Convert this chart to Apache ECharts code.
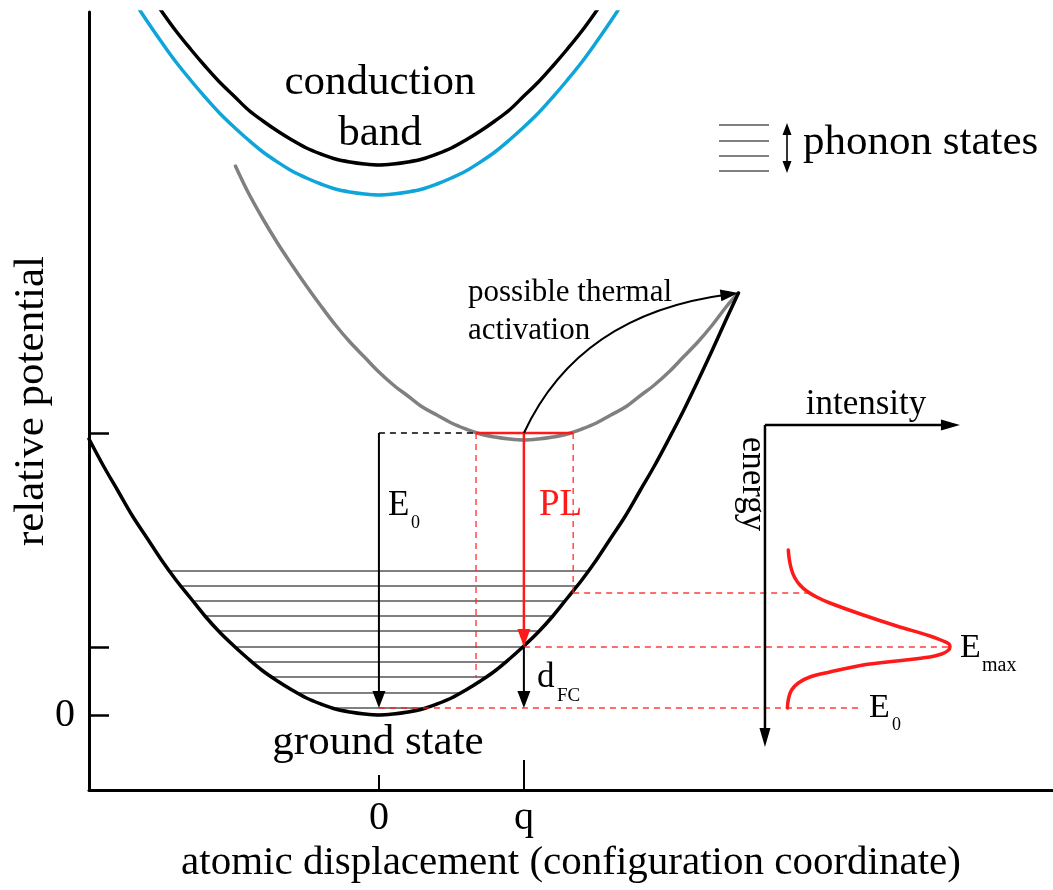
<!DOCTYPE html>
<html>
<head>
<meta charset="utf-8">
<script src="https://cdn.jsdelivr.net/npm/echarts@6/dist/echarts.min.js"></script>
<style>html,body{margin:0;padding:0;background:#fff}#c{width:1053px;height:890px}</style>
</head>
<body>
<div id="c"></div>
<script>
// ---------------- data (x in units of q, y in relative potential units) ----------------
const xAxisTitle = 'atomic displacement (configuration coordinate)';
const yAxisTitle = 'relative potential';
const xTickValues = [0, 1];
const xTickLabels = ['0', 'q'];
const yTickValues = [0, 0.68, 2.82];
const yLabelValues = [0];
const yTickLabels = ['0'];

// potential curves [x, y]
const groundState = [[-2.0,2.76],[-1.9,2.49],[-1.8,2.24],[-1.7,1.99],[-1.6,1.77],[-1.5,1.55],[-1.4,1.35],[-1.3,1.17],[-1.2,0.99],[-1.1,0.83],[-1.0,0.69],[-0.9,0.56],[-0.8,0.44],[-0.7,0.34],[-0.6,0.25],[-0.5,0.17],[-0.4,0.11],[-0.3,0.06],[-0.2,0.03],[-0.1,0.01],[0,0],[0.1,0.01],[0.2,0.03],[0.3,0.06],[0.4,0.11],[0.5,0.17],[0.6,0.25],[0.7,0.34],[0.8,0.44],[0.9,0.56],[1.0,0.69],[1.1,0.83],[1.2,0.99],[1.3,1.17],[1.4,1.35],[1.5,1.55],[1.6,1.77],[1.7,1.99],[1.8,2.24],[1.9,2.49],[2.0,2.76],[2.1,3.04],[2.2,3.34],[2.3,3.65],[2.4,3.97],[2.48,4.22]];
const excitedState = [[-0.99,5.49],[-0.9,5.22],[-0.8,4.96],[-0.7,4.72],[-0.6,4.50],[-0.5,4.29],[-0.4,4.09],[-0.3,3.90],[-0.2,3.73],[-0.1,3.58],[0,3.43],[0.1,3.30],[0.2,3.19],[0.3,3.08],[0.4,3.00],[0.5,2.92],[0.6,2.86],[0.7,2.81],[0.8,2.78],[0.9,2.76],[1.0,2.75],[1.1,2.76],[1.2,2.78],[1.3,2.81],[1.4,2.86],[1.5,2.92],[1.6,3.00],[1.7,3.08],[1.8,3.19],[1.9,3.30],[2.0,3.43],[2.1,3.58],[2.2,3.73],[2.3,3.90],[2.4,4.09],[2.48,4.22]];
const conductionBand = [[-1.6,7.25],[-1.5,7.04],[-1.4,6.84],[-1.3,6.66],[-1.2,6.49],[-1.1,6.33],[-1.0,6.19],[-0.9,6.05],[-0.8,5.94],[-0.7,5.84],[-0.6,5.75],[-0.5,5.67],[-0.4,5.61],[-0.3,5.56],[-0.2,5.53],[-0.1,5.51],[0,5.5],[0.1,5.51],[0.2,5.53],[0.3,5.56],[0.4,5.61],[0.5,5.67],[0.6,5.75],[0.7,5.84],[0.8,5.94],[0.9,6.05],[1.0,6.19],[1.1,6.33],[1.2,6.49],[1.3,6.66],[1.4,6.84],[1.5,7.04],[1.6,7.25]];
const conductionBandLow = [[-1.7,7.16],[-1.6,6.94],[-1.5,6.73],[-1.4,6.53],[-1.3,6.35],[-1.2,6.18],[-1.1,6.02],[-1.0,5.88],[-0.9,5.75],[-0.8,5.63],[-0.7,5.53],[-0.6,5.44],[-0.5,5.37],[-0.4,5.31],[-0.3,5.26],[-0.2,5.23],[-0.1,5.21],[0,5.2],[0.1,5.21],[0.2,5.23],[0.3,5.26],[0.4,5.31],[0.5,5.37],[0.6,5.44],[0.7,5.53],[0.8,5.63],[0.9,5.75],[1.0,5.88],[1.1,6.02],[1.2,6.18],[1.3,6.35],[1.4,6.53],[1.5,6.73],[1.6,6.94],[1.7,7.16]];

// phonon states inside the ground-state well
const phononLevels = [0.07, 0.22, 0.38, 0.53, 0.68, 0.84, 0.99, 1.14, 1.29, 1.44];
const phononLeft   = [-0.30, -0.56, -0.74, -0.88, -0.99, -1.10, -1.20, -1.29, -1.37, -1.45];
const phononRight  = [0.32, 0.56, 0.74, 0.88, 0.99, 1.10, 1.20, 1.29, 1.37, 1.44];

// levels and turning points
const thermalLevel = 2.82;
const thermalLeft = 0.67;
const thermalRight = 1.34;
const leftTurnGround = 0.37;
const rightTurnGround = 1.22;
const emaxLevel = 0.68;
const e0Level = 0.07;

// guide lines [x1, y1, x2, y2] on main axes
const redDashed = [
  [thermalLeft, thermalLevel, thermalLeft, leftTurnGround],
  [thermalRight, thermalLevel, thermalRight, rightTurnGround],
  [thermalRight, rightTurnGround, 2.98, rightTurnGround],
  [1.0, emaxLevel, 3.945, emaxLevel],
  [0, e0Level, 3.34, e0Level]
];
const blackDashed = [[0, thermalLevel, thermalLeft, thermalLevel]];
const redSolid = [[thermalLeft, thermalLevel, thermalRight, thermalLevel]];

// arrows [x1,y1,(cx,cy,) x2,y2]
const blackArrows = [[0, thermalLevel, 0, e0Level], [1, emaxLevel, 1, e0Level]];
const redArrows = [[1, thermalLevel, 1, emaxLevel]];
const thermalArrow = [[1, thermalLevel, 1.38, 4.01, 2.48, 4.22]];

// PL spectrum inset: intensity (inset x axis) vs energy (shared y axis)
const spectrumIntensity = [0.126, 0.132, 0.144, 0.162, 0.189, 0.225, 0.279, 0.351, 0.531, 0.712, 0.892, 0.964, 0.995, 1.0, 0.99, 0.955, 0.892, 0.712, 0.531, 0.351, 0.243, 0.18, 0.144, 0.128, 0.121];
const spectrumEnergy    = [1.65, 1.55, 1.45, 1.37, 1.30, 1.24, 1.18, 1.12, 1.00, 0.89, 0.79, 0.74, 0.71, 0.68, 0.645, 0.61, 0.58, 0.54, 0.50, 0.43, 0.38, 0.32, 0.25, 0.17, 0.07];
const insetAxes = [[0, 2.90, 0, -0.32], [0, 2.90, 1.054, 2.90]];

// ---------------- chart ----------------
const F = "'Liberation Serif','Times New Roman',serif";
const RED = '#ff1a1a';
const GRAY = '#808080';
const BLUE = '#10a5d8';

function segSeries(name, segs, style, xAxisIndex, z) {
  return {
    type: 'custom', name: name, xAxisIndex: xAxisIndex || 0, yAxisIndex: 0, z: z, silent: true,
    data: segs.map(s => [s[0], s[1]]),
    renderItem: function (params, api) {
      const s = segs[params.dataIndex];
      const a = api.coord([s[0], s[1]]);
      const b = api.coord([s[2], s[3]]);
      return { type: 'line', shape: { x1: a[0], y1: a[1], x2: b[0], y2: b[1] },
               style: Object.assign({ fill: null }, style) };
    }
  };
}

function arrowSeries(name, arrows, color, width, headLen, headWid, xAxisIndex, z) {
  return {
    type: 'custom', name: name, xAxisIndex: xAxisIndex || 0, yAxisIndex: 0, z: z, silent: true,
    data: arrows.map(a => [a[0], a[1]]),
    renderItem: function (params, api) {
      const a = arrows[params.dataIndex];
      const pts = [];
      for (let k = 0; k < a.length; k += 2) pts.push(api.coord([a[k], a[k + 1]]));
      const tip = pts[pts.length - 1];
      const prev = pts[pts.length - 2];
      let dx = tip[0] - prev[0], dy = tip[1] - prev[1];
      const len = Math.hypot(dx, dy) || 1; dx /= len; dy /= len;
      const bx = tip[0] - dx * headLen, by = tip[1] - dy * headLen;
      const nx = -dy * headWid / 2, ny = dx * headWid / 2;
      const children = [];
      if (pts.length === 2) {
        children.push({ type: 'line', shape: { x1: pts[0][0], y1: pts[0][1], x2: bx, y2: by },
          style: { stroke: color, lineWidth: width, fill: null } });
      } else {
        children.push({ type: 'bezierCurve', shape: { x1: pts[0][0], y1: pts[0][1], cpx1: pts[1][0], cpy1: pts[1][1],
          x2: tip[0] - dx * headLen * 0.6, y2: tip[1] - dy * headLen * 0.6 },
          style: { stroke: color, lineWidth: width, fill: null } });
      }
      children.push({ type: 'polygon', shape: { points: [[tip[0], tip[1]], [bx + nx, by + ny], [bx - nx, by - ny]] },
        style: { fill: color, stroke: null } });
      return { type: 'group', children: children };
    }
  };
}

function curve(name, data, color, width, z, xAxisIndex) {
  return { type: 'line', name: name, data: data, xAxisIndex: xAxisIndex || 0, yAxisIndex: 0,
    smooth: 0.35, showSymbol: false, symbol: 'none', clip: true, z: z, silent: true,
    lineStyle: { color: color, width: width, cap: 'round', join: 'round' } };
}

function txt(text, x, y, size, align, opts) {
  opts = opts || {};
  return { type: 'text', x: x, y: y, rotation: opts.rotation || 0, z: 100, silent: true,
    style: { text: text, fill: opts.color || '#000', fontSize: size, fontFamily: F,
      align: align, verticalAlign: 'middle', textAlign: align, textVerticalAlign: 'middle' } };
}

const phononSegs = phononLevels.map((y, i) => [phononLeft[i], y, phononRight[i], y]);
const spectrum = spectrumIntensity.map((v, i) => [v, spectrumEnergy[i]]);

const option = {
  animation: false,
  backgroundColor: '#fff',
  textStyle: { fontFamily: F },
  grid: { left: 89, right: 0, top: 12, bottom: 100, containLabel: false, outerBoundsMode: 'none' },
  xAxis: [
    { type: 'value', min: -2, max: 4.65, position: 'bottom',
      name: xAxisTitle, nameLocation: 'middle', nameGap: 53, nameMoveOverlap: false,
      nameTextStyle: { fontSize: 41, color: '#000', fontFamily: F },
      axisLine: { show: true, onZero: false, lineStyle: { color: '#000', width: 3 } },
      axisTick: { show: true, inside: true, length: 15, customValues: [xTickValues[0]], lineStyle: { color: '#000', width: 2 } },
      axisLabel: { show: true, customValues: xTickValues, formatter: v => xTickLabels[xTickValues.indexOf(v)],
        fontSize: 40, color: '#000', margin: 8, fontFamily: F },
      splitLine: { show: false } },
    { type: 'value', min: -3.654, max: 1.557, show: false, position: 'bottom', splitLine: { show: false } },
    { type: 'value', min: -2, max: 4.65, position: 'bottom',
      axisLine: { show: false, onZero: false },
      axisTick: { show: true, inside: true, length: 30, customValues: [xTickValues[1]], lineStyle: { color: '#000', width: 2 } },
      axisLabel: { show: false }, splitLine: { show: false } }
  ],
  yAxis: [
    { type: 'value', min: -0.75, max: 7.03, position: 'left',
      name: yAxisTitle, nameLocation: 'middle', nameGap: 36, nameRotate: 90, nameMoveOverlap: false,
      nameTextStyle: { fontSize: 43, color: '#000', fontFamily: F },
      axisLine: { show: true, onZero: false, lineStyle: { color: '#000', width: 3 } },
      axisTick: { show: true, inside: true, length: 20, customValues: yTickValues, lineStyle: { color: '#000', width: 2.5 } },
      axisLabel: { show: true, customValues: yLabelValues, formatter: v => yTickLabels[yLabelValues.indexOf(v)],
        fontSize: 40, color: '#000', margin: 14, fontFamily: F },
      splitLine: { show: false } }
  ],
  series: [
    segSeries('phonon states', phononSegs, { stroke: GRAY, lineWidth: 2.2 }, 0, 3),
    curve('conduction band', conductionBand, '#000', 3.5, 5),
    curve('conduction band (lower)', conductionBandLow, BLUE, 3.5, 5),
    curve('excited state', excitedState, GRAY, 3.5, 4),
    curve('ground state', groundState, '#000', 3.5, 5),
    segSeries('red guides', redDashed, { stroke: RED, lineWidth: 1.4, lineDash: [6, 5], opacity: 0.85 }, 0, 6),
    segSeries('black guides', blackDashed, { stroke: '#000', lineWidth: 1.4, lineDash: [6, 5] }, 0, 6),
    segSeries('thermal level', redSolid, { stroke: RED, lineWidth: 2.5 }, 0, 7),
    arrowSeries('E0 / dFC', blackArrows, '#000', 2, 17, 13, 0, 8),
    arrowSeries('PL', redArrows, RED, 2.5, 18, 13, 0, 8),
    arrowSeries('thermal activation', thermalArrow, '#000', 2, 18, 12, 0, 8),
    arrowSeries('inset axes', insetAxes, '#000', 2.5, 19, 11, 1, 8),
    curve('PL spectrum', spectrum, RED, 3.5, 7, 1)
  ],
  graphic: [
    // phonon states key
    { type: 'line', shape: { x1: 719, y1: 125, x2: 769, y2: 125 }, style: { stroke: GRAY, lineWidth: 2.2 }, z: 100 },
    { type: 'line', shape: { x1: 719, y1: 141, x2: 769, y2: 141 }, style: { stroke: GRAY, lineWidth: 2.2 }, z: 100 },
    { type: 'line', shape: { x1: 719, y1: 156, x2: 769, y2: 156 }, style: { stroke: GRAY, lineWidth: 2.2 }, z: 100 },
    { type: 'line', shape: { x1: 719, y1: 171, x2: 769, y2: 171 }, style: { stroke: GRAY, lineWidth: 2.2 }, z: 100 },
    { type: 'line', shape: { x1: 787, y1: 134, x2: 787, y2: 162 }, style: { stroke: '#000', lineWidth: 1.6 }, z: 100 },
    { type: 'polygon', shape: { points: [[787, 123], [782.5, 135], [791.5, 135]] }, style: { fill: '#000' }, z: 100 },
    { type: 'polygon', shape: { points: [[787, 173], [782.5, 161], [791.5, 161]] }, style: { fill: '#000' }, z: 100 },
    txt('phonon states', 803, 143, 43, 'left'),
    txt('conduction', 380, 83, 43, 'center'),
    txt('band', 380, 134, 43, 'center'),
    txt('possible thermal', 468, 293, 31, 'left'),
    txt('activation', 468, 331, 31, 'left'),
    txt('E', 388, 506, 35, 'left'),
    txt('0', 411, 523, 18, 'left'),
    txt('PL', 539, 505, 37, 'left', { color: RED }),
    txt('d', 537, 678, 35, 'left'),
    txt('FC', 557, 696, 19, 'left'),
    txt('ground state', 378, 743, 43, 'center'),
    txt('intensity', 866, 405, 35, 'center'),
    txt('energy', 752, 484, 35, 'center', { rotation: -Math.PI / 2 }),
    txt('E', 960, 648, 34, 'left'),
    txt('max', 982, 666, 20, 'left'),
    txt('E', 869, 708, 34, 'left'),
    txt('0', 892, 725, 18, 'left')
  ]
};

const chart = echarts.init(document.getElementById('c'), null, { renderer: 'canvas' });
chart.setOption(option);
</script>
</body>
</html>
